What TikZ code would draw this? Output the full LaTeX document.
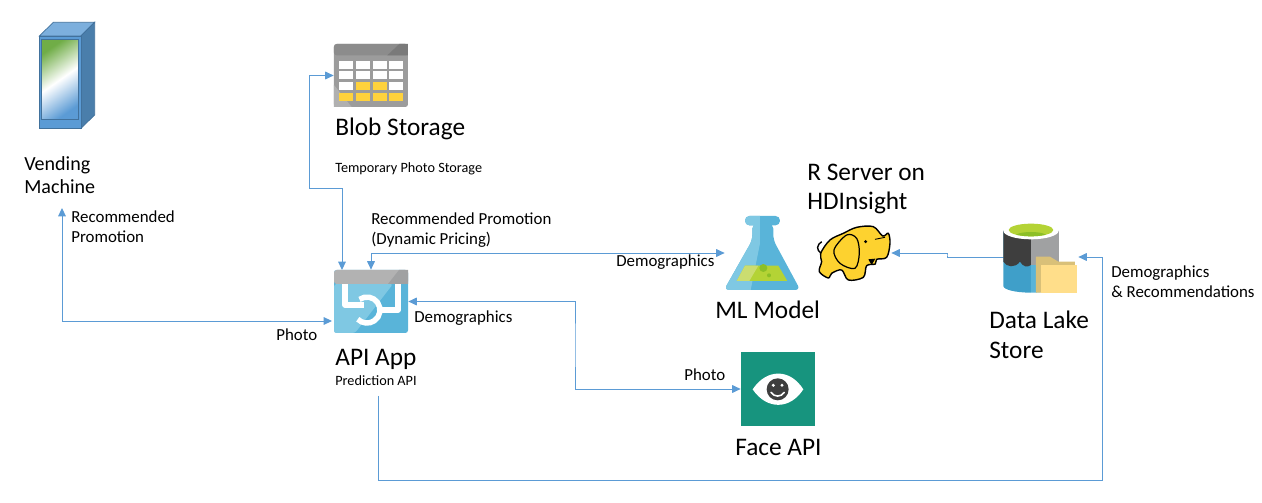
\documentclass[tikz,border=0pt]{standalone}
\usepackage{fontspec}
\setmainfont{Carlito}
\usetikzlibrary{arrows.meta}
\definecolor{linkblue}{HTML}{5B9BD5}
\definecolor{boxfront}{HTML}{5B9BD5}
\definecolor{boxtop}{HTML}{7CAFDD}
\definecolor{boxside}{HTML}{4A7EAB}
\definecolor{boxedge}{HTML}{41719C}
\definecolor{screengreen}{HTML}{70AD47}
\definecolor{azurelight}{HTML}{7FC8E3}
\definecolor{azuredark}{HTML}{59B4D9}
\definecolor{headlight}{HTML}{B2B2B2}
\definecolor{headdark}{HTML}{A0A1A2}
\definecolor{tablebody}{HTML}{9C9C9C}
\definecolor{tablelight}{HTML}{B0B0B0}
\definecolor{tablehead}{HTML}{8C8C8C}
\definecolor{tableheaddark}{HTML}{7A7A7A}
\definecolor{cellyellow}{HTML}{FFD23C}
\definecolor{liquidlight}{HTML}{CBDD70}
\definecolor{liquiddark}{HTML}{B4D335}
\definecolor{bubble}{HTML}{8CBF26}
\definecolor{hadoop}{HTML}{FDD22F}
\definecolor{lakedark}{HTML}{3E3E3E}
\definecolor{lakegray}{HTML}{A0A1A2}
\definecolor{lakeblue}{HTML}{3F9FC9}
\definecolor{folderback}{HTML}{D9C078}
\definecolor{folderfront}{HTML}{FFDE8A}
\definecolor{faceteal}{HTML}{17947E}
\begin{document}
\begin{tikzpicture}[
	x=0.02cm, y=-0.02cm,
	iconbox/.style={ rectangle, inner sep=0pt, minimum width=1.48cm, minimum height=1.26cm },
	title/.style={ font=\fontsize{14.4}{17}\selectfont, align=left, inner sep=0pt, anchor=west },
	vendingtitle/.style={ font=\fontsize{11.4}{13}\selectfont, align=left, inner sep=0pt, anchor=west },
	note/.style={ font=\fontsize{9.6}{11.4}\selectfont, align=left, inner sep=0pt, anchor=west },
	smallnote/.style={ font=\fontsize{8.1}{10}\selectfont, align=left, inner sep=0pt, anchor=west },
	link/.style={ linkblue, line width=0.55pt },
	>={Triangle[length=4.8pt,width=4.4pt]}
]
\useasboundingbox (0,0) rectangle (1262,503);

\node at (67,75.5) (vending) [iconbox,minimum width=1.12cm,minimum height=2.14cm] {};
\node at (371,75.5) (blob) [iconbox] {};
\node at (371,301.5) (api) [iconbox] {};
\node at (762,253) (mlmodel) [iconbox] {};
\node at (854,253) (rserver) [iconbox,minimum width=1.48cm,minimum height=1.12cm] {};
\node at (1041,257) (lake) [iconbox] {};
\node at (778,389) (face) [iconbox,minimum height=1.48cm] {};

\node at (24,175.5) (vendinglabel) [vendingtitle] {Vending\\Machine};
\node at (335,129) (bloblabel) [title] {Blob Storage};
\node at (335,169) (blobnote) [smallnote] {Temporary Photo Storage};
\node at (335,359) (apilabel) [title] {API App};
\node at (335,381) (apinote) [smallnote] {Prediction API};
\node at (807,189) (rserverlabel) [title] {R Server on\\HDInsight};
\node at (715,310) (mllabel) [title] {ML Model};
\node at (989,335) (lakelabel) [title] {Data Lake\\Store};
\node at (735,447) (facelabel) [title] {Face API};

\node at (71,227) (vendingnote) [note] {Recommended\\Promotion};
\node at (276,335) (photoa) [note] {Photo};
\node at (371,230) (promonote) [note] {Recommended Promotion\\(Dynamic Pricing)};
\node at (616,262) (demoa) [note] {Demographics};
\node at (414,318) (demob) [note] {Demographics};
\node at (684,375) (photob) [note] {Photo};
\node at (1111,282) (democ) [note] {Demographics\\\& Recommendations};

\coordinate (vendingend) at (62,208);
\coordinate (apiphoto) at (332,321);
\draw[link,<->] (vendingend) |- (apiphoto);

\coordinate (apiblob) at (342,270);
\coordinate (blobbend) at (342,188);
\coordinate (blobleft) at (309,188);
\draw[link,<->] (blob.west) -| (blobleft) -- (blobbend) -- (apiblob);

\draw[link,<->] (api.north) |- (mlmodel.west);

\coordinate (facebend) at (575,345);
\draw[link,<->] (api.east) -| (facebend) |- (face.west);

\coordinate (lakebend) at (947,255);
\draw[link,<-] (rserver.east) -| (lakebend) |- (lake.west);

\coordinate (apibottom) at (378,396);
\coordinate (lakeright) at (1102,480);
\draw[link,->] (apibottom) |- (lakeright) |- (lake.east);

\begin{scope}[shift={(20,20)},scale=0.3333]
\fill[boxtop,draw=boxedge,line width=0.4pt] (58,48) -- (100,7) -- (224,7) -- (183,48) -- cycle;
\fill[boxside,draw=boxedge,line width=0.4pt] (183,48) -- (224,7) -- (224,285) -- (183,325) -- cycle;
\fill[boxfront,draw=boxedge,line width=0.4pt] (58,48) rectangle (183,325);
\shade[top color=screengreen,bottom color=boxfront,middle color=white,shading angle=35,draw=boxedge,line width=0.5pt] (65,58) rectangle (175,298);
\end{scope}

\begin{scope}[shift={(300,30)},scale=0.3333]
\fill[tablebody,rounded corners=1.5pt] (102,42) rectangle (324,231);
\fill[tablelight] (102,165) -- (155,231) -- (102,231) -- cycle;
\fill[tablehead,rounded corners=1.5pt] (102,42) rectangle (324,76);
\fill[tableheaddark] (262,76) -- (298,42) -- (324,42) -- (324,76) -- cycle;
\foreach \row/\top in {1/92,2/124,3/157,4/190} {
	\foreach \col/\left in {1/118,2/168,3/218,4/267} {
		\fill[white] (\left,\top) rectangle ++(42,24);
	}
}
\foreach \left in {168,218} { \fill[cellyellow] (\left,157) rectangle ++(42,24); }
\foreach \left in {118,168,218,267} { \fill[cellyellow] (\left,190) rectangle ++(42,24); }
\end{scope}

\fill[azuredark,rounded corners=1.5pt] (334,270) rectangle (408,333);
\fill[azurelight,rounded corners=1.5pt] (334,284) -- (393,284) -- (355,333) -- (334,333) -- cycle;
\fill[headlight,rounded corners=1.5pt] (334,270) rectangle (408,284);
\fill[headdark] (388,284) -- (399,270) -- (408,270) -- (408,284) -- cycle;
\draw[white,line width=3.1pt,line join=round] (345,284) -- (345,305) -- (364,305);
\draw[white,line width=3.1pt,line join=round] (398,284) -- (398,310) -- (382,310);
\draw[white,line width=3.1pt] (359.5,299.4) arc[start angle=-125,end angle=135,radius=13];

\begin{scope}[shift={(700,200)},scale=0.3333]
\def\flaskbody{ (157,70) -- (157,120) -- (72,270) -- (301,270) -- (220,120) -- (220,70) -- cycle }
\fill[azuredark,rounded corners=3pt] \flaskbody;
\fill[azuredark,rounded corners=2.5pt] (135,48) rectangle (240,76);
\begin{scope}
\clip (0,0) -- (180,0) -- (180,130) -- (150,280) -- (0,280) -- cycle;
\fill[azurelight,rounded corners=3pt] \flaskbody;
\fill[azurelight,rounded corners=2.5pt] (135,48) rectangle (240,76);
\end{scope}
\fill[liquiddark] (135,197) -- (235,197) -- (262,243) -- (110,243) -- cycle;
\fill[liquidlight] (135,197) -- (175,197) -- (148,243) -- (110,243) -- cycle;
\fill[bubble] (190,204) circle (12);
\fill[bubble] (207,226) circle (6);
\end{scope}

\begin{scope}[shift={(700,200)},scale=0.3333]
\draw[black,fill=hadoop,line width=0.8pt] plot[smooth cycle,tension=0.55] coordinates {(362,160) (390,120) (430,100) (470,82) (520,80) (548,108) (565,100) (570,130) (560,172) (530,178) (526,192) (500,197) (490,232) (445,240) (425,210) (395,220) (385,234) (358,215) (365,185)};
\draw[black,line width=0.8pt] (364,160) .. controls (348,150) and (350,135) .. (365,125);
\draw[black,line width=0.7pt,fill=hadoop] plot[smooth cycle,tension=0.55] coordinates {(440,105) (402,150) (420,190) (465,205) (478,160) (470,115)};
\fill[black] (497,125) circle (5);
\draw[black,line width=0.5pt] (525,118) -- (555,112);
\fill[black] (505,178) -- (526,176) -- (515,195) -- cycle;
\end{scope}

\begin{scope}[shift={(950,210)},scale=0.3333]
\fill[lakeblue] (160,62) -- (160,228) arc[start angle=180,end angle=90,x radius=83,y radius=20] -- (243,62) -- cycle;
\fill[azuredark] (243,62) -- (243,248) arc[start angle=90,end angle=0,x radius=83,y radius=20] -- (326,62) -- cycle;
\fill[lakedark] (160,62) -- (160,155) .. controls (170,172) and (195,175) .. (210,155) .. controls (220,172) and (232,172) .. (243,165) -- (243,62) -- cycle;
\fill[lakegray] (243,62) rectangle (326,165);
\fill[white] (243,62) ellipse[x radius=83,y radius=26];
\fill[liquiddark] (243,60) ellipse[x radius=67,y radius=19];
\begin{scope}
\clip (243,60) ellipse[x radius=67,y radius=19];
\fill[bubble] (243,80) ellipse[x radius=50,y radius=14];
\end{scope}
\fill[folderback] (258,140) -- (300,140) -- (325,155) -- (375,155) -- (375,248) -- (258,248) -- cycle;
\fill[folderfront] (272,165) rectangle (380,248);
\end{scope}

\begin{scope}[shift={(720,340)},scale=0.3333]
\fill[faceteal] (63,37) rectangle (284,259);
\fill[white] (98,148) .. controls (140,85) and (210,85) .. (250,148) .. controls (210,210) and (140,210) .. (98,148) -- cycle;
\fill[lakedark] (173,148) circle (33);
\fill[white] (160,136) circle (5);
\fill[white] (186,136) circle (5);
\draw[white,line width=0.9pt,line cap=round] (153,157) .. controls (163,172) and (183,172) .. (193,157);
\end{scope}

\end{tikzpicture}
\end{document}
